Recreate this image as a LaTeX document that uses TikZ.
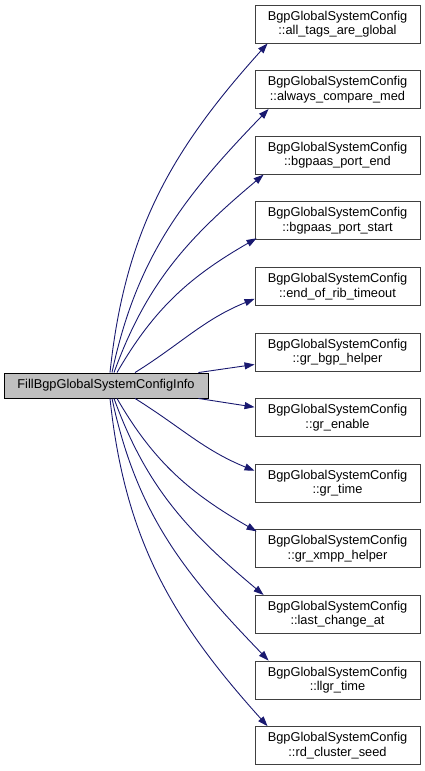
\documentclass[tikz,border=0pt]{standalone}
\usepackage{fontspec}
\setmainfont{Liberation Sans}
\usetikzlibrary{arrows.meta}
\definecolor{edgeblue}{HTML}{191970}
\begin{document}
\begin{tikzpicture}[x=1pt,y=-1pt,
  fnbox/.style={draw=black!75, fill=white, line width=0.9pt, minimum width=165pt, minimum height=38pt,
    inner sep=0pt, align=center, font=\fontsize{12.8}{14.5}\selectfont},
  mainbox/.style={draw=black, fill=black!25, line width=0.9pt, minimum width=204pt, minimum height=25pt,
    inner sep=0pt, font=\fontsize{12.8}{14.5}\selectfont},
  edge/.style={draw=edgeblue, line width=0.9pt, -{Triangle[length=10pt,width=7pt]}}]
\useasboundingbox (0,0) rectangle (425,771);
\node[mainbox] (L) at (106,385.5) {FillBgpGlobalSystemConfigInfo};
\node[fnbox] (b1) at (337.5,24.0) {BgpGlobalSystemConfig\\::all\_tags\_are\_global};
\node[fnbox] (b2) at (337.5,89.6) {BgpGlobalSystemConfig\\::always\_compare\_med};
\node[fnbox] (b3) at (337.5,155.2) {BgpGlobalSystemConfig\\::bgpaas\_port\_end};
\node[fnbox] (b4) at (337.5,220.8) {BgpGlobalSystemConfig\\::bgpaas\_port\_start};
\node[fnbox] (b5) at (337.5,286.4) {BgpGlobalSystemConfig\\::end\_of\_rib\_timeout};
\node[fnbox] (b6) at (337.5,352.0) {BgpGlobalSystemConfig\\::gr\_bgp\_helper};
\node[fnbox] (b7) at (337.5,417.6) {BgpGlobalSystemConfig\\::gr\_enable};
\node[fnbox] (b8) at (337.5,483.2) {BgpGlobalSystemConfig\\::gr\_time};
\node[fnbox] (b9) at (337.5,548.8) {BgpGlobalSystemConfig\\::gr\_xmpp\_helper};
\node[fnbox] (b10) at (337.5,614.4) {BgpGlobalSystemConfig\\::last\_change\_at};
\node[fnbox] (b11) at (337.5,680.0) {BgpGlobalSystemConfig\\::llgr\_time};
\node[fnbox] (b12) at (337.5,745.6) {BgpGlobalSystemConfig\\::rd\_cluster\_seed};
% upper edges
\draw[edge] ([xshift=4pt]L.north) to[out=84,in=228] ([xshift=13pt]b1.south west);
\draw[edge] ([xshift=6pt]L.north) to[out=78,in=226] ([xshift=14pt]b2.south west);
\draw[edge] ([xshift=8pt]L.north) to[out=70,in=220] ([xshift=9pt]b3.south west);
\draw[edge] ([xshift=11pt]L.north) to[out=60,in=210] ([xshift=2pt,yshift=2pt]b4.south west);
\draw[edge] ([xshift=29pt]L.north) to[out=32,in=202] ([yshift=7pt]b5.south west);
\draw[edge] ([xshift=-10pt]L.north east) -- ([yshift=7pt]b6.south west);
% lower edges
\draw[edge] ([xshift=-10pt]L.south east) -- ([yshift=-9pt]b7.north west);
\draw[edge] ([xshift=29pt]L.south) to[out=-32,in=158] ([yshift=-7pt]b8.north west);
\draw[edge] ([xshift=11pt]L.south) to[out=-60,in=150] ([xshift=2pt,yshift=-2pt]b9.north west);
\draw[edge] ([xshift=8pt]L.south) to[out=-70,in=140] ([xshift=9pt]b10.north west);
\draw[edge] ([xshift=6pt]L.south) to[out=-78,in=134] ([xshift=14pt]b11.north west);
\draw[edge] ([xshift=4pt]L.south) to[out=-84,in=132] ([xshift=13pt]b12.north west);
\end{tikzpicture}
\end{document}
